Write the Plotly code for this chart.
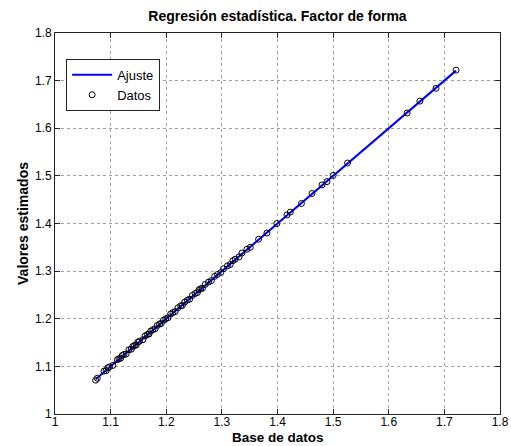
import plotly.graph_objects as go

# Datos (base de datos vs valores estimados)
datos_x = [1.073, 1.076, 1.088, 1.092, 1.095, 1.098, 1.104, 1.112, 1.115, 1.118,
           1.121, 1.124, 1.128, 1.133, 1.137, 1.140, 1.143, 1.146, 1.149, 1.152,
           1.158, 1.162, 1.166, 1.169, 1.172, 1.176, 1.180, 1.184, 1.188, 1.191,
           1.195, 1.199, 1.203, 1.208, 1.212, 1.216, 1.221, 1.226, 1.229, 1.233,
           1.238, 1.242, 1.247, 1.252, 1.256, 1.259, 1.262, 1.265, 1.270, 1.276,
           1.281, 1.287, 1.292, 1.298, 1.303, 1.310, 1.315, 1.320, 1.324, 1.331,
           1.336, 1.345, 1.351, 1.366, 1.381, 1.399, 1.417, 1.423, 1.443, 1.462,
           1.480, 1.489, 1.500, 1.526, 1.633, 1.656, 1.685, 1.721]
datos_y = [1.071, 1.075, 1.090, 1.091, 1.097, 1.099, 1.102, 1.114, 1.116, 1.117,
           1.123, 1.125, 1.126, 1.135, 1.136, 1.142, 1.144, 1.145, 1.151, 1.153,
           1.156, 1.164, 1.167, 1.168, 1.174, 1.177, 1.179, 1.186, 1.189, 1.190,
           1.197, 1.200, 1.202, 1.210, 1.213, 1.215, 1.223, 1.227, 1.228, 1.235,
           1.239, 1.241, 1.249, 1.253, 1.255, 1.261, 1.263, 1.264, 1.272, 1.277,
           1.280, 1.289, 1.293, 1.297, 1.305, 1.311, 1.314, 1.322, 1.325, 1.330,
           1.338, 1.346, 1.350, 1.367, 1.380, 1.400, 1.418, 1.424, 1.442, 1.463,
           1.481, 1.488, 1.501, 1.527, 1.632, 1.657, 1.684, 1.722]

# Recta de ajuste
ajuste_x = [1.073, 1.721]
ajuste_y = [1.073, 1.721]

ticks = [1.0, 1.1, 1.2, 1.3, 1.4, 1.5, 1.6, 1.7, 1.8]
tick_labels = ["1", "1.1", "1.2", "1.3", "1.4", "1.5", "1.6", "1.7", "1.8"]

fig = go.Figure()
fig.add_trace(go.Scatter(x=ajuste_x, y=ajuste_y, mode="lines", name="Ajuste",
                         line=dict(color="#0000ff", width=2)))
fig.add_trace(go.Scatter(x=datos_x, y=datos_y, mode="markers", name="Datos",
                         marker=dict(symbol="circle-open", size=6, color="black",
                                     line=dict(width=1, color="black"))))

FAM = "Liberation Sans, Arial, sans-serif"
tickfont = dict(family=FAM, size=12, color="black")
axis_common = dict(range=[1, 1.8], tickvals=ticks, ticktext=tick_labels,
                   showgrid=True, gridcolor="#a0a0a0", griddash="dot", gridwidth=1,
                   showline=True, linecolor="#222222", linewidth=1, mirror="ticks",
                   ticks="inside", ticklen=5, tickcolor="#222222",
                   zeroline=False, tickfont=tickfont, automargin=False)

fig.update_layout(
    width=511, height=446,
    margin=dict(l=55, r=11, t=33, b=32),
    paper_bgcolor="white", plot_bgcolor="white",
    font=dict(family=FAM, size=13, color="black"),
    title=dict(text="<b>Regresión estadística. Factor de forma</b>",
               x=0.543, xanchor="center", y=0.964, yanchor="middle",
               automargin=False,
               font=dict(family=FAM, size=14, color="black")),
    xaxis=dict(axis_common, ticklabelstandoff=-3),
    yaxis=dict(axis_common, title=dict(text="<b>Valores estimados</b>", standoff=3,
                                        font=dict(family=FAM, size=14))),
    legend=dict(x=0.025, y=0.932, xanchor="left", yanchor="top",
                bgcolor="white", bordercolor="#222222", borderwidth=1,
                font=dict(family=FAM, size=13), itemwidth=40, tracegroupgap=0),
    showlegend=True,
    annotations=[dict(text="<b>Base de datos</b>", xref="paper", yref="paper",
                      x=0.5, y=-0.0835, xanchor="center", yanchor="bottom",
                      borderpad=0,
                      showarrow=False, font=dict(family=FAM, size=13.5, color="black"))],
)

fig.write_html("out.html", config={"displayModeBar": False},
               post_script="document.body.style.margin='0';")
